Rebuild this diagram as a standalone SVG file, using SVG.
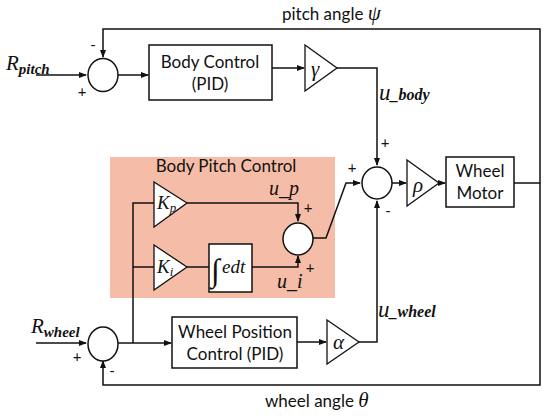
<svg xmlns="http://www.w3.org/2000/svg" width="550" height="418" viewBox="0 0 550 418">
<defs>
<marker id="ah" markerWidth="8" markerHeight="6" refX="7" refY="3" orient="auto" markerUnits="userSpaceOnUse">
<path d="M0,0 L8,3 L0,6 Z" fill="#111"/>
</marker>
<style>
.ln{fill:none;stroke:#111;stroke-width:1.5}
.bx{fill:#fff;stroke:#111;stroke-width:1.5}
.tri{fill:#fff;stroke:#111;stroke-width:1.3}
.ss{font-family:Lato,"Liberation Sans",sans-serif;font-size:17px;fill:#111}
.mi{font-family:"Liberation Serif",serif;font-style:italic;fill:#111}
.sg{font-family:Lato,"Liberation Sans",sans-serif;font-size:15px;fill:#111}
</style>
</defs>
<rect width="550" height="418" fill="#fff"/>
<rect id="bpc-bg" x="110" y="157" width="225" height="141" fill="#F5BCA7"/>
<text class="ss" x="226" y="172" text-anchor="middle">Body Pitch Control</text>

<g id="connectors">
<path class="ln" d="M36,75 H86" marker-end="url(#ah)"/>
<path class="ln" d="M514,183 H540 V29 H103 V57" marker-end="url(#ah)"/>
<path class="ln" d="M118,75 H148" marker-end="url(#ah)"/>
<path class="ln" d="M272,68 H304" marker-end="url(#ah)"/>
<path class="ln" d="M337,68 H377 V165" marker-end="url(#ah)"/>
<path class="ln" d="M392,183 H406" marker-end="url(#ah)"/>
<path class="ln" d="M439,183 H445" marker-end="url(#ah)"/>
<path class="ln" d="M36,343 H86" marker-end="url(#ah)"/>
<path class="ln" d="M118,343 H171" marker-end="url(#ah)"/>
<path class="ln" d="M133,343 V203 H154"/>
<path class="ln" d="M133,267 H154"/>
<path class="ln" d="M187,267 H209"/>
<path class="ln" d="M187,203 H298 V221" marker-end="url(#ah)"/>
<path class="ln" d="M252,267 H298 V256" marker-end="url(#ah)"/>
<path class="ln" d="M313,238 H326 L346,183 H360" marker-end="url(#ah)"/>
<path class="ln" d="M297,342 H326" marker-end="url(#ah)"/>
<path class="ln" d="M359,342 H377 V201" marker-end="url(#ah)"/>
<path class="ln" d="M540,183 V385 H103 V361" marker-end="url(#ah)"/>
</g>

<g id="sum-pitch">
<ellipse cx="103" cy="75" rx="15" ry="16.5" class="bx"/>
<text class="sg" x="93" y="50" text-anchor="middle">-</text>
<text class="sg" x="82" y="97" text-anchor="middle">+</text>
</g>
<g id="r-pitch">
<text class="mi" x="6" y="70" font-size="21">R<tspan font-size="15" font-weight="bold" dy="4">pitch</tspan></text>
</g>
<g id="body-control">
<rect class="bx" x="149" y="45" width="123" height="55"/>
<text class="ss" x="210" y="68" text-anchor="middle">Body Control</text>
<text class="ss" x="210" y="90" text-anchor="middle">(PID)</text>
</g>
<g id="gamma">
<path class="tri" d="M305,45 L337,68 L305,91 Z"/>
<text class="mi" x="311" y="76" font-size="21">γ</text>
</g>
<g id="pitch-label">
<text class="ss" x="282" y="20">pitch angle <tspan class="mi" font-size="21">ψ</tspan></text>
</g>
<g id="u-body">
<text class="mi" x="379" y="100" font-size="23">u<tspan font-size="16" font-weight="bold">_body</tspan></text>
<text class="sg" x="385" y="148" text-anchor="middle">+</text>
</g>
<g id="sum-motor">
<ellipse cx="377" cy="183" rx="15" ry="16" class="bx"/>
<text class="sg" x="352" y="173" text-anchor="middle">+</text>
<text class="sg" x="388" y="216" text-anchor="middle">-</text>
</g>
<g id="rho">
<path class="tri" d="M407,160 L439,183 L407,206 Z"/>
<text class="mi" x="413" y="192" font-size="21">ρ</text>
</g>
<g id="wheel-motor">
<rect class="bx" x="446" y="157" width="68" height="50"/>
<text class="ss" x="480" y="177" text-anchor="middle">Wheel</text>
<text class="ss" x="480" y="199" text-anchor="middle">Motor</text>
</g>
<g id="kp">
<path class="tri" d="M154,182 L187,203 L154,227 Z"/>
<text class="mi" x="157" y="209" font-size="19">K<tspan font-size="13" dy="3">p</tspan></text>
</g>
<g id="ki">
<path class="tri" d="M154,245 L187,267 L154,290 Z"/>
<text class="mi" x="157" y="273" font-size="19">K<tspan font-size="13" dy="3">i</tspan></text>
</g>
<g id="integrator">
<rect class="bx" x="209" y="244" width="43" height="48"/>
<text class="mi" x="211" y="281" font-size="32">∫</text>
<text class="mi" x="222" y="273" font-size="19">edt</text>
</g>
<g id="sum-inner">
<ellipse cx="298" cy="239" rx="15" ry="16" class="bx"/>
<text class="sg" x="308" y="213" text-anchor="middle">+</text>
<text class="sg" x="310" y="273" text-anchor="middle">+</text>
<text class="mi" x="269" y="195" font-size="20">u_p</text>
<text class="mi" x="277" y="288" font-size="20">u_i</text>
</g>
<g id="r-wheel">
<text class="mi" x="31" y="333" font-size="21">R<tspan font-size="15" font-weight="bold" dy="4">wheel</tspan></text>
</g>
<g id="sum-wheel">
<ellipse cx="103" cy="344" rx="15" ry="17" class="bx"/>
<text class="sg" x="77" y="362" text-anchor="middle">+</text>
<text class="sg" x="112" y="376" text-anchor="middle">-</text>
</g>
<g id="wheel-position">
<rect class="bx" x="172" y="317" width="125" height="51"/>
<text class="ss" x="235" y="338" text-anchor="middle">Wheel Position</text>
<text class="ss" x="235" y="360" text-anchor="middle">Control (PID)</text>
</g>
<g id="alpha">
<path class="tri" d="M327,320 L359,342 L327,364 Z"/>
<text class="mi" x="333" y="349" font-size="21">α</text>
</g>
<g id="u-wheel">
<text class="mi" x="378" y="317" font-size="23">u<tspan font-size="16" font-weight="bold">_wheel</tspan></text>
</g>
<g id="wheel-label">
<text class="ss" x="265" y="407">wheel angle <tspan class="mi" font-size="21">θ</tspan></text>
</g>
</svg>
